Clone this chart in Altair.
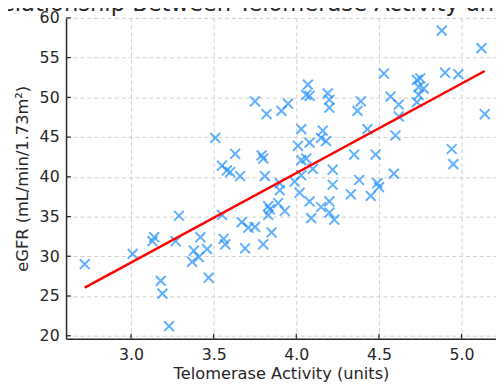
import altair as alt
import pandas as pd

# Telomerase activity (units) and eGFR values
telomerase = [2.72, 3.01, 3.13, 3.14, 3.18, 3.19, 3.23, 3.27, 3.29, 3.37,
              3.38, 3.41, 3.42, 3.46, 3.47, 3.51, 3.55, 3.55, 3.56, 3.57,
              3.58, 3.60, 3.63, 3.66, 3.67, 3.69, 3.71, 3.75, 3.75, 3.79,
              3.80, 3.80, 3.81, 3.82, 3.83, 3.84, 3.83, 3.85, 3.89, 3.90,
              3.90, 3.91, 3.93, 3.95, 3.99, 4.01, 4.02, 4.03, 4.03, 4.03,
              4.06, 4.07, 4.06, 4.08, 4.08, 4.08, 4.09, 4.10, 4.15, 4.15,
              4.16, 4.18, 4.19, 4.20, 4.20, 4.20, 4.20, 4.22, 4.22, 4.23,
              4.33, 4.35, 4.37, 4.39, 4.38, 4.43, 4.45, 4.48, 4.49, 4.50,
              4.53, 4.57, 4.59, 4.60, 4.62, 4.62, 4.73, 4.75, 4.74, 4.77,
              4.74, 4.73, 4.88, 4.90, 4.94, 4.95, 4.98, 5.12, 5.14]
egfr = [29.0, 30.3, 31.9, 32.4, 26.9, 25.3, 21.2, 31.9, 35.1, 29.3,
        30.7, 29.9, 32.4, 30.9, 27.3, 44.9, 35.2, 41.4, 32.2, 31.5,
        40.8, 40.6, 42.9, 40.1, 34.3, 31.0, 33.6, 33.7, 49.5, 42.7,
        42.3, 31.5, 40.1, 47.9, 36.3, 35.9, 35.2, 33.0, 36.7, 39.2,
        38.3, 48.3, 35.7, 49.2, 39.4, 43.9, 38.0, 40.2, 42.1, 46.0,
        42.3, 51.6, 50.3, 50.2, 44.3, 36.9, 34.8, 41.0, 36.2, 44.9,
        45.8, 44.5, 50.5, 49.7, 48.7, 36.9, 35.5, 39.0, 40.9, 34.6,
        37.8, 42.8, 48.3, 49.5, 39.6, 46.0, 37.6, 42.8, 39.2, 38.7,
        53.0, 50.1, 40.4, 45.2, 49.1, 47.6, 52.2, 52.4, 51.3, 51.1,
        50.3, 49.4, 58.4, 53.1, 43.5, 41.6, 52.9, 56.2, 47.9]

x_ticks = [3.0, 3.5, 4.0, 4.5, 5.0]
y_ticks = [20, 25, 30, 35, 40, 45, 50, 55, 60]

df = pd.DataFrame({"x": telomerase, "y": egfr})

W, H = 437, 326
FONT = "DejaVu Sans"
TXT = "#262626"

xscale = alt.Scale(domain=[2.607, 5.208], nice=False, zero=False)
yscale = alt.Scale(domain=[19.63, 60], nice=False, zero=False)

common_axis = dict(
    grid=True, gridDash=[4, 3], gridColor="#cfcfcf", gridWidth=1,
    tickSize=0, labelFont=FONT, labelFontSize=16, labelColor=TXT,
    titleFont=FONT, titleFontSize=16.5, titleFontWeight="normal", titleColor=TXT,
    domainColor=TXT, domainWidth=1.5,
)

xaxis = alt.Axis(values=x_ticks, format=".1f", title="Telomerase Activity (units)",
                 labelPadding=8, titlePadding=3, **common_axis)
yaxis = alt.Axis(values=y_ticks, format="d", title="eGFR (mL/min/1.73m²)",
                 labelPadding=7, titlePadding=9, **common_axis)

base = alt.Chart(df)

points = base.mark_point(
    shape="M-1,-1L1,1M-1,1L1,-1", filled=False, size=100, strokeWidth=2,
    color="#1E90FF", opacity=0.7,
).encode(
    x=alt.X("x:Q", scale=xscale, axis=xaxis),
    y=alt.Y("y:Q", scale=yscale, axis=yaxis),
)

line = base.transform_regression("x", "y").mark_line(
    color="#ff0000", strokeWidth=2.5
).encode(
    x=alt.X("x:Q", scale=xscale),
    y=alt.Y("y:Q", scale=yscale),
)

ytick_marks = alt.Chart(pd.DataFrame({"y": y_ticks})).mark_rule(
    color=TXT, strokeWidth=1.2
).encode(
    y=alt.Y("y:Q", scale=yscale),
    x=alt.value(0), x2=alt.value(5),
)

xtick_marks = alt.Chart(pd.DataFrame({"x": x_ticks})).mark_rule(
    color=TXT, strokeWidth=1.2
).encode(
    x=alt.X("x:Q", scale=xscale),
    y=alt.value(H), y2=alt.value(H - 5),
)

chart = alt.layer(points, line, ytick_marks, xtick_marks).properties(
    width=W, height=H,
    title=alt.TitleParams(
        "Relationship Between Telomerase Activity and eGFR",
        fontSize=23, font=FONT, fontWeight="normal", color=TXT,
        anchor="middle", frame="group", offset=0, dy=24, baseline="alphabetic",
    ),
    autosize=alt.AutoSizeParams(type="none"),
    padding={"left": 59, "top": 7, "right": 0, "bottom": 42},
    background="white",
).configure_view(stroke=None)

chart.save("out.html", embed_options={"renderer": "svg", "actions": False})
